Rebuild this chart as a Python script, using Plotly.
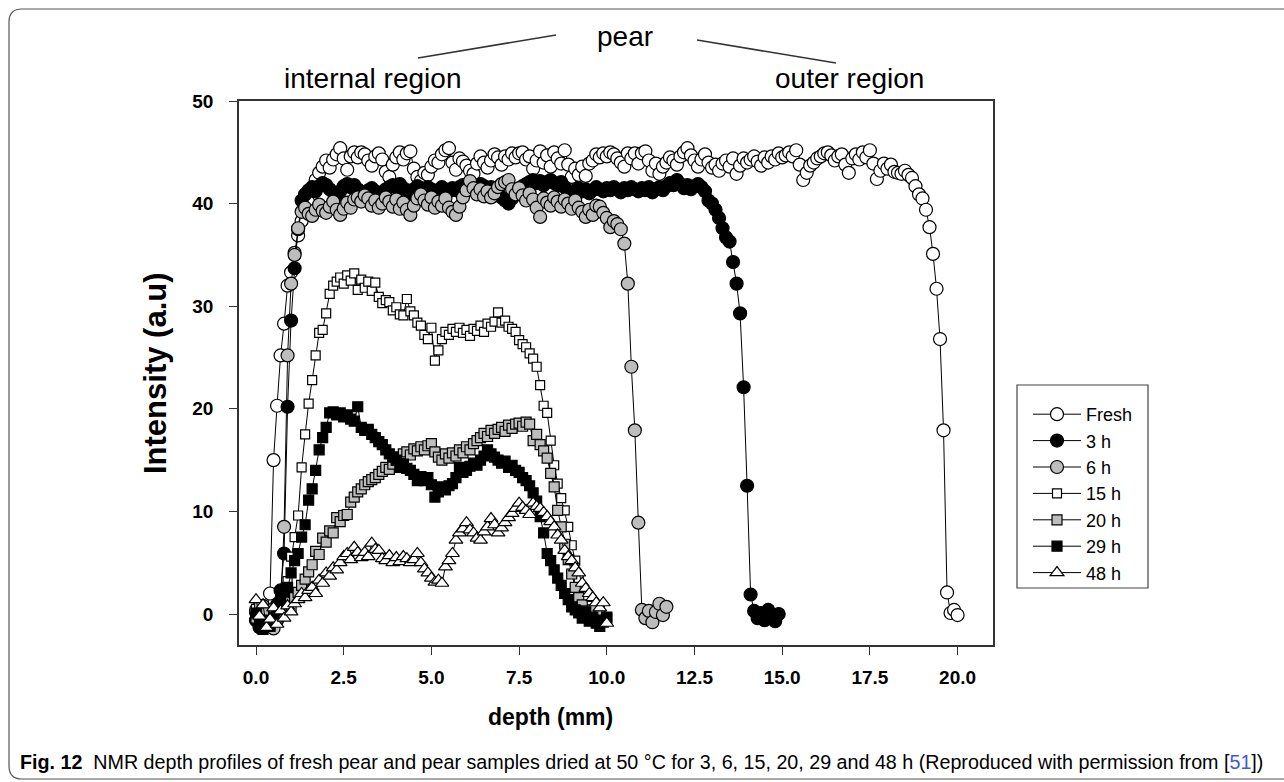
import numpy as np
import plotly.graph_objects as go

# NMR depth profiles: intensity (a.u.) sampled every 0.1 mm from the surface
STEP_MM = 0.1

fresh = [0.2, -0.6, -1.0, 0.3, 2.0, 15.0, 20.3, 25.2, 28.3, 32.0,
         33.3, 35.2, 36.9, 38.3, 39.3, 40.1, 41.3, 42.3, 43.0, 43.6,
         44.2, 43.5, 44.3, 44.8, 45.4, 44.4, 43.3, 44.6, 45.0, 44.5,
         45.0, 44.8, 44.2, 43.7, 44.6, 44.9, 44.3, 43.1, 42.6, 43.8,
         44.5, 45.0, 44.3, 44.9, 45.1, 43.4, 42.6, 42.2, 43.0, 42.8,
         43.6, 44.2, 44.0, 44.8, 45.2, 45.4, 44.0, 43.3, 44.4, 44.1,
         43.7, 43.2, 42.9, 43.9, 44.6, 44.0, 43.5, 44.2, 44.8, 44.5,
         43.8, 44.6, 44.3, 44.9, 44.5, 44.9, 45.0, 44.3, 44.6, 43.4,
         44.2, 45.1, 44.0, 44.7, 43.6, 45.0, 44.4, 43.9, 45.2, 43.8,
         42.6, 43.4, 42.8, 43.6, 42.7, 43.9, 44.2, 44.8, 44.5, 44.9,
         44.6, 45.0, 44.8, 44.4, 44.0, 43.6, 44.9, 44.4, 44.9, 43.9,
         44.9, 45.1, 44.2, 43.2, 43.9, 42.9, 43.6, 44.0, 44.5, 44.2,
         43.8, 44.6, 45.0, 45.4, 44.7, 44.2, 43.6, 44.3, 44.8, 44.0,
         43.5, 43.8, 43.2, 43.9, 44.2, 43.6, 44.4, 42.9, 43.7, 44.4,
         44.0, 44.3, 44.6, 44.1, 43.7, 44.5, 44.0, 44.6, 44.3, 44.9,
         44.5, 44.7, 45.0, 44.6, 45.2, 43.8, 42.3, 43.0, 43.7, 44.0,
         44.4, 44.6, 44.9, 45.0, 44.7, 44.2, 44.6, 44.8, 43.8, 43.0,
         44.4, 44.8, 44.3, 45.0, 44.5, 45.2, 43.9, 42.4, 43.2, 43.9,
         43.4, 43.8, 43.1, 43.0, 42.9, 43.2, 42.8, 42.5, 41.7, 40.9,
         40.5, 39.4, 37.7, 35.1, 31.7, 26.8, 17.9, 2.1, 0.1, 0.4,
         -0.1]

h3 = [-0.6, -1.3, -0.7, -1.1, -0.4, 0.3, 0.9, 2.3, 5.9, 20.2,
      28.6, 33.7, 37.5, 40.3, 40.9, 41.3, 41.6, 41.2, 41.7, 42.0,
      41.8, 41.4, 41.1, 40.8, 41.2, 41.7, 41.9, 41.6, 41.8, 41.4,
      41.1, 40.9, 41.3, 41.5, 41.2, 40.9, 41.1, 41.4, 41.6, 41.8,
      41.6, 41.9, 41.5, 41.3, 41.0, 41.4, 41.7, 41.5, 41.2, 41.6,
      41.4, 41.1, 41.3, 41.6, 41.4, 41.2, 41.5, 41.3, 41.6, 41.8,
      41.5, 41.7, 41.3, 41.6, 41.9, 41.7, 41.4, 41.6, 41.2, 41.0,
      40.6, 40.3, 40.0, 40.5, 41.0, 41.4, 41.7, 41.9, 42.1, 42.3,
      42.0, 42.2, 41.8, 42.1, 42.3, 42.0, 41.8, 42.1, 41.6, 41.2,
      40.9, 41.3, 41.5, 41.2, 41.4, 41.0, 41.3, 41.6, 41.4, 41.2,
      41.5, 41.3, 41.6, 41.4, 41.1, 41.5, 41.3, 41.6, 41.4, 41.2,
      41.5, 41.3, 41.6, 41.1, 41.4, 41.6, 41.3, 41.7, 42.0, 41.8,
      42.3, 41.9, 41.5, 41.8, 41.4, 41.7, 41.9, 41.6, 41.2, 40.3,
      40.0, 39.4, 38.6, 37.6, 36.7, 36.3, 34.3, 32.2, 29.3, 22.1,
      12.5, 1.9, 0.3, -0.4, 0.1, -0.6, 0.4, -0.2, -0.7, 0.0]

h6 = [0.4, -0.5, 0.8, -0.2, -0.9, -1.4, -0.6, 0.5, 8.5, 25.2,
      32.2, 35.0, 37.6, 39.2, 39.6, 39.0, 38.8, 39.4, 39.9, 39.3,
      39.1, 39.7, 40.2, 39.4, 38.9, 39.5, 40.1, 39.6, 40.4, 40.6,
      40.2, 40.8, 40.5, 39.8, 40.3, 39.6, 40.0, 40.6, 40.2, 39.7,
      40.4, 39.5, 40.1, 39.4, 38.9, 39.8, 40.5, 40.9, 40.3, 39.9,
      40.6, 39.6, 40.2, 39.8, 40.5, 39.6, 39.2, 38.9, 39.7, 40.6,
      41.3, 42.2, 41.5, 40.9, 41.4, 40.7, 41.2, 40.6, 41.0, 41.6,
      41.9, 42.1, 42.3, 41.4, 40.9, 41.5, 40.8, 40.3, 41.0, 40.4,
      39.6, 38.7, 40.5, 40.1, 39.8, 40.6, 40.2, 39.7, 40.4, 40.0,
      39.5, 40.3, 39.6, 39.2, 38.7, 39.4, 38.9, 39.8, 39.7, 39.1,
      38.6, 37.7, 38.3, 38.0, 37.5, 36.1, 32.2, 24.1, 17.9, 8.9,
      0.4, -0.4, 0.3, -0.8, 0.2, 1.0, -0.1, 0.7]

h15 = [0.5, -0.3, 0.0, -0.8, 0.3, -0.5, 0.2, 0.8, 1.5, 3.2,
       5.6, 7.5, 9.6, 14.3, 17.5, 20.5, 22.8, 25.2, 27.4, 27.7,
       29.3, 31.2, 32.0, 32.4, 32.8, 32.2, 33.0, 32.5, 33.2, 31.6,
       32.6, 31.8, 32.4, 31.5, 32.3, 30.9, 30.3, 30.6, 30.4, 29.6,
       29.9, 29.2, 29.1, 30.7, 29.5, 29.1, 28.4, 28.1, 27.2, 26.8,
       27.9, 24.7, 25.7, 26.8, 27.5, 27.2, 27.8, 27.5, 27.9, 27.4,
       27.7, 27.1, 27.8, 27.6, 28.1, 27.5, 28.3, 28.0, 28.5, 29.4,
       28.4, 28.6, 28.0, 27.8, 27.5, 26.7, 26.3, 26.0, 25.4, 24.9,
       24.1, 22.3, 20.3, 19.6, 16.9, 14.5, 12.7, 11.3, 10.1, 8.5,
       6.7, 5.2, 3.5, 2.3, 1.5, 0.8, 0.4, -0.2, 0.3, -0.5,
       -0.3]

h20 = [-0.4, 0.9, -0.8, 0.2, -1.0, 0.5, -0.5, 0.1, 0.7, 1.1,
       0.6, 1.6, 2.1, 2.8, 3.4, 4.1, 4.8, 6.1, 5.8, 7.4,
       7.0, 8.1, 7.9, 9.4, 9.0, 9.6, 9.7, 10.9, 11.4, 11.9,
       12.2, 12.6, 12.9, 13.1, 13.3, 13.6, 13.9, 14.3, 14.1, 14.6,
       15.0, 15.3, 15.6, 15.8, 15.5, 16.1, 15.9, 16.3, 16.0, 16.4,
       16.6, 15.8, 15.3, 15.0, 15.6, 15.2, 15.7, 15.4, 16.0, 15.7,
       16.3, 16.0, 16.6, 16.9, 17.2, 17.6, 17.3, 17.9, 17.6, 18.0,
       18.2, 17.8, 18.4, 18.1, 18.5, 18.6, 18.3, 18.7, 18.5, 16.9,
       17.5, 16.5, 15.9, 15.2, 13.7, 12.4, 10.1, 8.5, 6.8, 5.3,
       3.9, 2.6, 1.6, 0.9, 0.3, -0.2, 0.4, -0.6, -0.1, -0.8,
       -0.4]

h29 = [0.1, -0.9, -1.5, -0.6, -1.2, -0.3, 0.4, 1.3, 2.2, 2.6,
       4.0, 5.2, 5.9, 7.5, 8.7, 11.1, 12.2, 14.0, 16.0, 17.2,
       18.2, 19.6, 19.7, 19.4, 19.6, 19.2, 19.4, 19.0, 18.8, 20.2,
       18.2, 17.9, 18.0, 17.5, 17.2, 16.8, 16.5, 16.0, 15.6, 15.3,
       15.0, 14.3, 14.6, 14.2, 14.0, 13.6, 13.0, 13.4, 13.0, 13.3,
       12.6, 11.4, 11.9, 12.4, 12.1, 12.5, 12.7, 13.3, 14.3, 13.8,
       14.0, 14.4, 14.7, 14.5, 15.0, 15.4, 16.0, 15.6, 15.3, 15.0,
       14.7, 14.9, 14.3, 14.5, 14.0, 13.8, 13.3, 13.0, 12.5, 11.8,
       11.0, 9.5, 7.9, 5.9, 5.2, 4.3, 3.5, 2.8, 2.0, 1.4,
       0.7, 0.4, 0.1, -0.4, 0.2, -0.7, -0.3, -0.9, -1.2, -0.6,
       -0.3]

h48 = [1.4, -0.2, 0.9, -1.3, -0.5, 0.6, -1.0, 0.3, -0.4, 0.8,
       0.2, 1.0, 1.4, 2.0, 1.6, 2.3, 2.6, 2.0, 3.3, 3.0,
       4.0, 3.7, 4.5, 4.3, 5.0, 5.6, 5.9, 5.3, 6.5, 6.0,
       5.5, 6.0, 5.6, 6.9, 6.3, 6.2, 5.4, 5.2, 5.7, 5.0,
       5.5, 5.1, 5.6, 5.4, 5.0, 5.3, 5.9, 5.0, 4.4, 4.0,
       3.5, 3.1, 3.3, 3.0, 4.6, 5.2, 5.9, 7.2, 7.9, 8.3,
       8.9, 8.2, 7.9, 7.4, 7.2, 8.0, 8.5, 9.3, 8.7, 7.9,
       8.4, 8.9, 9.4, 9.8, 10.3, 10.8, 10.4, 10.1, 9.7, 10.8,
       10.5, 10.3, 9.9, 9.5, 9.0, 8.5, 7.7, 7.2, 6.2, 5.6,
       5.2, 4.5, 4.0, 3.0, 2.5, 2.0, 1.6, 1.1, 0.6, 1.1,
       -0.9]

series_names = ["Fresh", "3 h", "6 h", "15 h", "20 h", "29 h", "48 h"]
series_values = [fresh, h3, h6, h15, h20, h29, h48]
series_symbols = ["circle", "circle", "circle", "square", "square", "square", "triangle-up"]
series_fill = ["white", "black", "#bdbdbd", "white", "#bdbdbd", "black", "white"]
series_size = [13, 13, 13, 9, 10, 10, 12]

x_ticks = [0.0, 2.5, 5.0, 7.5, 10.0, 12.5, 15.0, 17.5, 20.0]
y_ticks = [0, 10, 20, 30, 40, 50]

FONT = "Liberation Sans, Arial, sans-serif"

fig = go.Figure()
for name, vals, sym, fill, size in zip(series_names, series_values,
                                       series_symbols, series_fill, series_size):
    depth = np.round(np.arange(len(vals)) * STEP_MM, 2)
    fig.add_trace(go.Scatter(
        x=depth, y=vals, name=name, mode="lines+markers",
        line=dict(color="black", width=1),
        marker=dict(symbol=sym, size=size, color=fill,
                    line=dict(color="black", width=1.2)),
    ))

# plot frame geometry (pixels) used to place the extra annotations
L, R, T, B = 239, 993, 101, 645
W, H = 1284, 782


def px(x):
    return (x - L) / (R - L)


def py(y):
    return (B - y) / (B - T)


def label(text, x, y, size, bold=False, angle=0, family=FONT, xanchor="center"):
    return dict(text=text, x=px(x), y=py(y), xref="paper", yref="paper",
                xanchor=xanchor, yanchor="middle", textangle=angle, showarrow=False,
                font=dict(family=family, size=size, color="black",
                          weight="bold" if bold else "normal"))


axis_common = dict(showline=True, linecolor="#333333", linewidth=1.6, mirror=True,
                   ticks="outside", ticklen=8, tickwidth=1.3, tickcolor="#333333",
                   showgrid=False, zeroline=False,
                   tickfont=dict(family=FONT, size=19, color="black", weight="bold"))

caption = ("<b>Fig. 12</b>  NMR depth profiles of fresh pear and pear samples dried at 50 °C "
           "for 3, 6, 15, 20, 29 and 48 h (Reproduced with permission from "
           "[<span style='color:#3b5bdb'>51</span>])")

fig.update_layout(
    width=W, height=H,
    margin=dict(l=L, r=W - R, t=T, b=H - B),
    paper_bgcolor="white", plot_bgcolor="white",
    xaxis=dict(range=[-0.485, 21.01], tickvals=x_ticks, tickformat=".1f",
               ticklabelstandoff=6, **axis_common),
    yaxis=dict(range=[-3.02, 50], tickvals=y_ticks, ticklabelstandoff=12, **axis_common),
    showlegend=True,
    legend=dict(x=px(1028), y=py(396), xanchor="left", yanchor="top",
                borderwidth=0, bgcolor="rgba(0,0,0,0)",
                font=dict(family=FONT, size=18, color="black"),
                itemwidth=48, tracegroupgap=0),
    annotations=[
        label("depth (mm)", 550, 717, 23, bold=True),
        label("Intensity (a.u)", 155, 373, 31, bold=True, angle=-90),
        label("pear", 625, 37, 28),
        label("internal region", 372, 79, 28),
        label("outer region", 849, 79, 28),
        label(caption, 18, 762, 19.7, xanchor="left"),
    ],
    shapes=[
        dict(type="line", xref="paper", yref="paper", x0=px(418), y0=py(58), x1=px(556), y1=py(35),
             line=dict(color="#333333", width=1.6)),
        dict(type="line", xref="paper", yref="paper", x0=px(697), y0=py(40), x1=px(836), y1=py(63),
             line=dict(color="#333333", width=1.6)),
        # legend frame
        dict(type="rect", xref="paper", yref="paper", x0=px(1017), y0=py(385), x1=px(1148), y1=py(588),
             line=dict(color="#444444", width=1.2)),
        # rounded border around the figure and caption
        dict(type="path", xref="paper", yref="paper",
             path=(f"M {px(1300)},{py(9)} L {px(22)},{py(9)} "
                   f"Q {px(9)},{py(9)} {px(9)},{py(22)} "
                   f"L {px(9)},{py(766)} Q {px(9)},{py(779)} {px(22)},{py(779)} "
                   f"L {px(1300)},{py(779)}"),
             line=dict(color="#555555", width=1.2)),
    ],
)

fig.write_html("out.html")
